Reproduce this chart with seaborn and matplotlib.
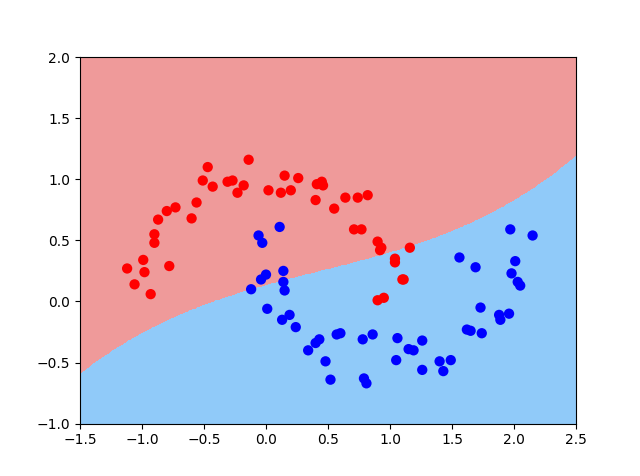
import numpy as np
import matplotlib
matplotlib.use("Agg")
import matplotlib.pyplot as plt
import seaborn as sns
import pandas as pd
from matplotlib.colors import ListedColormap

red_x = [-1.12,-1.06,-0.99,-0.98,-0.93,-0.90,-0.90,-0.87,-0.78,-0.80,-0.73,-0.60,-0.56,-0.51,-0.47,-0.43,
         -0.31,-0.27,-0.23,-0.18,-0.14,0.02,0.12,0.15,0.20,0.26,0.40,0.41,0.45,0.46,0.55,0.64,0.71,0.74,
         0.77,0.82,0.90,0.92,0.93,1.04,1.04,1.10,1.11,1.16,0.90,0.95]
red_y = [0.27,0.14,0.34,0.24,0.06,0.55,0.48,0.67,0.29,0.74,0.77,0.68,0.81,0.99,1.10,0.94,
         0.98,0.99,0.89,0.95,1.16,0.91,0.89,1.03,0.91,1.01,0.83,0.96,0.98,0.95,0.76,0.85,0.59,0.85,
         0.59,0.87,0.49,0.42,0.44,0.35,0.32,0.18,0.18,0.44,0.01,0.03]
blue_x = [-0.06,-0.03,0.11,0.00,-0.04,-0.12,0.14,0.14,0.15,0.01,0.13,0.19,0.24,0.34,0.40,0.43,0.48,0.52,
          0.57,0.60,0.78,0.79,0.81,0.86,1.06,1.05,1.15,1.19,1.26,1.26,1.40,1.43,1.49,1.56,1.62,1.65,
          1.69,1.73,1.74,1.88,1.89,1.96,1.97,1.98,2.01,2.03,2.05,2.15]
blue_y = [0.54,0.48,0.61,0.22,0.18,0.10,0.16,0.25,0.09,-0.06,-0.15,-0.11,-0.21,-0.40,-0.34,-0.31,-0.49,-0.64,
          -0.27,-0.26,-0.31,-0.63,-0.67,-0.27,-0.30,-0.48,-0.39,-0.40,-0.32,-0.56,-0.49,-0.57,-0.48,0.36,-0.23,-0.24,
          0.28,-0.05,-0.26,-0.11,-0.15,-0.10,0.59,0.23,0.33,0.16,0.13,0.54]
boundary_x = [-1.5,-1.0,-0.5,0.0,0.5,1.0,1.5,2.0,2.5]
boundary_y = [-0.57,-0.27,-0.05,0.15,0.30,0.42,0.57,0.80,1.22]

fig, ax = plt.subplots(figsize=(6.4, 4.76), dpi=100)
gx, gy = np.meshgrid(np.linspace(-1.5, 2.5, 600), np.linspace(-1, 2, 450))
coef = np.polyfit(boundary_x, boundary_y, 3)
z = (gy > np.polyval(coef, gx)).astype(int)
ax.contourf(gx, gy, z, levels=[-0.5, 0.5, 1.5], cmap=ListedColormap(["#90CAF9", "#EF9A9A"]))
df = pd.DataFrame({"x": red_x + blue_x, "y": red_y + blue_y,
                   "c": ["r"] * len(red_x) + ["b"] * len(blue_x)})
sns.scatterplot(data=df, x="x", y="y", hue="c", palette={"r": "red", "b": "blue"},
                s=55, edgecolor="none", legend=False, ax=ax)
ax.set_xlim(-1.5, 2.5)
ax.set_ylim(-1, 2)
ax.set_xlabel("")
ax.set_ylabel("")
fig.savefig("out.png")
